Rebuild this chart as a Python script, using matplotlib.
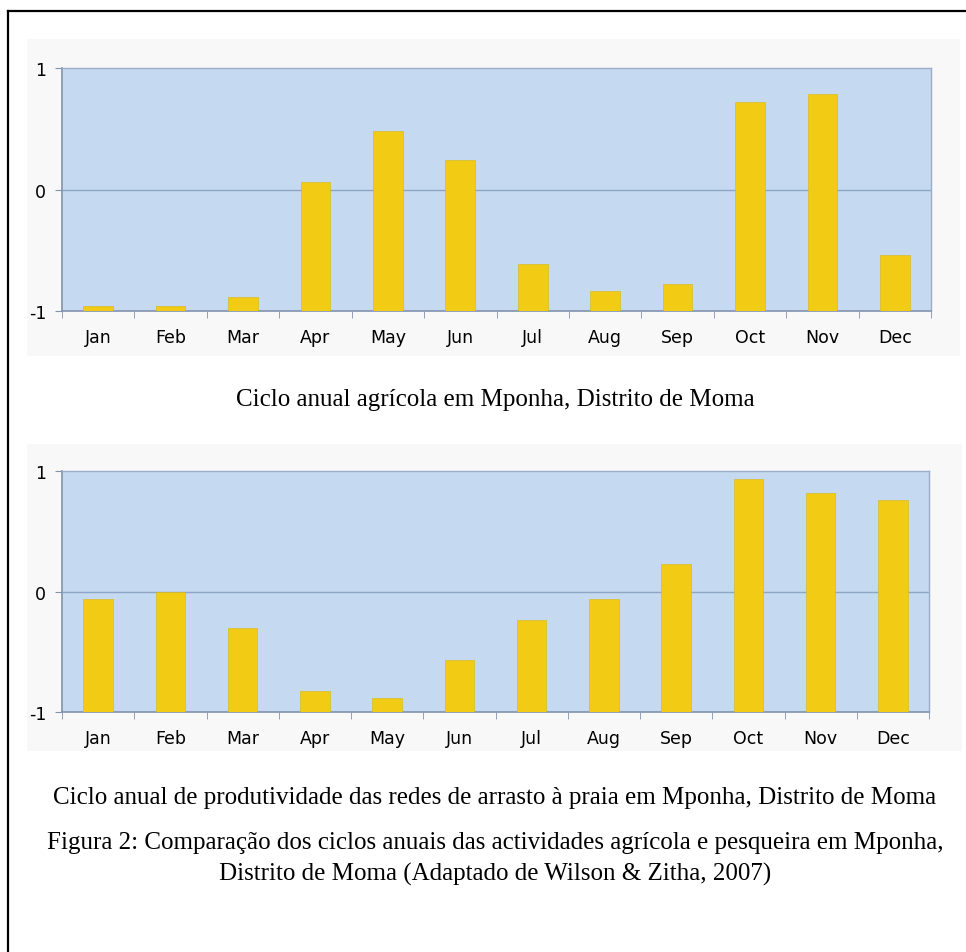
import numpy as np
import matplotlib
matplotlib.use("Agg")
import matplotlib.pyplot as plt
from matplotlib.lines import Line2D
from matplotlib.patches import Rectangle

months = ["Jan", "Feb", "Mar", "Apr", "May", "Jun",
          "Jul", "Aug", "Sep", "Oct", "Nov", "Dec"]
# agricultural cycle (top chart)
agri = [-0.955, -0.955, -0.885, 0.065, 0.48, 0.245,
        -0.615, -0.835, -0.775, 0.72, 0.79, -0.535]
# beach seine productivity (bottom chart)
fish = [-0.06, 0.0, -0.30, -0.825, -0.885, -0.57,
        -0.24, -0.065, 0.23, 0.935, 0.815, 0.76]

cap1 = "Ciclo anual agrícola em Mponha, Distrito de Moma"
cap2 = "Ciclo anual de produtividade das redes de arrasto à praia em Mponha, Distrito de Moma"
fig_cap = ["Figura 2: Comparação dos ciclos anuais das actividades agrícola e pesqueira em Mponha,",
           "Distrito de Moma (Adaptado de Wilson & Zitha, 2007)"]

W, H = 966, 953
BAR = "#f2cc14"
PLOTBG = "#c5daf0"
AXCOL = "#8193ad"

fig = plt.figure(figsize=(W / 100, H / 100), dpi=100)
fig.patch.set_facecolor("white")


def px(x0, y0, x1, y1):
    # pixel box (top-left origin) -> figure fraction rect
    return [x0 / W, 1 - y1 / H, (x1 - x0) / W, (y1 - y0) / H]


def panel(box, bgbox, vals):
    # faint chart-area background behind the excel chart
    bx = px(*bgbox)
    fig.add_artist(Rectangle((bx[0], bx[1]), bx[2], bx[3], transform=fig.transFigure,
                             facecolor="#f8f8f8", edgecolor="none", zorder=-5))
    ax = fig.add_axes(px(*box))
    ax.set_zorder(2)
    ax.set_facecolor(PLOTBG)
    x = np.arange(len(months))
    v = np.array(vals)
    ax.bar(x, v + 1, bottom=-1, width=0.41, color=BAR, edgecolor="#d9b410",
           linewidth=0.4, zorder=3)
    ax.axhline(0, color="#8da6c6", lw=1.0, zorder=2)
    ax.set_xlim(-0.5, 11.5)
    ax.set_ylim(-1, 1)
    ax.set_yticks([-1, 0, 1])
    ax.set_yticklabels(["-1", "0", "1"], fontsize=12.5, family="DejaVu Sans")
    ax.set_xticks(x)
    ax.set_xticklabels(months, fontsize=12.5, family="DejaVu Sans")
    ax.set_xticks(np.arange(-0.5, 12.0, 1), minor=True)
    ax.tick_params(axis="x", which="major", length=0, pad=12)
    ax.tick_params(axis="x", which="minor", length=5, color=AXCOL, direction="out")
    ax.tick_params(axis="y", length=5, color=AXCOL, pad=6.5)
    for s in ["left", "bottom"]:
        ax.spines[s].set_color(AXCOL)
        ax.spines[s].set_linewidth(1.2)
    for s in ["top", "right"]:
        ax.spines[s].set_color("#9aaecb")
        ax.spines[s].set_linewidth(1.0)
    return ax


ax1 = panel((62, 69, 931, 312), (27, 40, 960, 357), agri)
ax2 = panel((62, 472, 929, 713), (27, 445, 962, 752), fish)

serif = "Liberation Serif"
cx = 495 / W
fig.text(cx, 1 - 400 / H, cap1, ha="center", va="center", fontsize=18, family=serif)
fig.text(cx, 1 - 798 / H, cap2, ha="center", va="center", fontsize=18, family=serif)
fig.text(cx, 1 - 843 / H, fig_cap[0], ha="center", va="center", fontsize=18, family=serif)
fig.text(cx, 1 - 874 / H, fig_cap[1], ha="center", va="center", fontsize=18, family=serif)

# page frame (top and left rule)
fig.add_artist(Line2D([8 / W, 1], [1 - 12 / H, 1 - 12 / H], transform=fig.transFigure,
                      color="black", lw=1.6))
fig.add_artist(Line2D([8 / W, 8 / W], [1 - 12 / H, 0], transform=fig.transFigure,
                      color="black", lw=1.6))

fig.savefig("out.png", dpi=100)
